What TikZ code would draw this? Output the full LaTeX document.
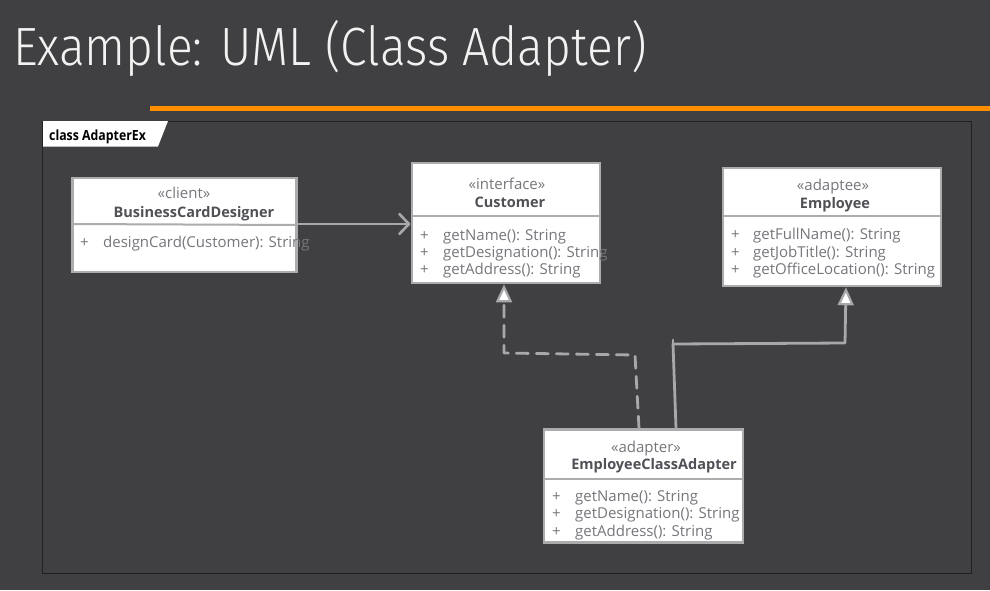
\documentclass[tikz,border=0pt]{standalone}
\usepackage{fontspec}
\setmainfont{Open Sans}
\newfontfamily\titlefont[UprightFont={* Light}]{Fira Sans}
\usetikzlibrary{arrows.meta}
\definecolor{bg}{RGB}{64,63,65}
\definecolor{framec}{RGB}{32,32,33}
\definecolor{orangec}{RGB}{255,142,0}
\definecolor{boxborder}{RGB}{172,172,175}
\definecolor{linec}{RGB}{168,168,171}
\definecolor{txt}{RGB}{118,118,124}
\definecolor{nametxt}{RGB}{80,80,86}
\definecolor{titlec}{RGB}{242,242,242}
\tikzset{
  classbox/.style={draw=boxborder, fill=white, line width=2.6pt, rectangle, inner sep=0pt},
  divline/.style={draw=boxborder, line width=2pt},
  stereo/.style={anchor=base, inner sep=0pt, text=txt, font=\fontsize{15}{17}\selectfont},
  cname/.style={anchor=base, inner sep=0pt, text=nametxt, font=\fontsize{14.5}{17}\selectfont\bfseries},
  plus/.style={anchor=base west, inner sep=0pt, text=txt, font=\fontsize{15}{17}\selectfont},
  meth/.style={anchor=base west, inner sep=0pt, text=txt, font=\fontsize{15}{17}\selectfont},
  conn/.style={draw=linec, line width=2.8pt, line cap=round, line join=round},
  gen/.style={conn, -{Triangle[fill=white, length=18pt, width=16pt, line width=2.2pt]}},
  assoc/.style={conn, -{Straight Barb[length=10pt, width=21pt, line width=2.6pt]}},
}
\begin{document}
\begin{tikzpicture}[x=1pt, y=-1pt]
\useasboundingbox (0,0) rectangle (990,590);
\fill[bg] (0,0) rectangle (990,590);
% title
\node[anchor=base west, inner sep=0pt, text=titlec, font=\titlefont\fontsize{49}{56}\selectfont] (title) at (13,65) {\scalebox{0.98}[1.1]{Example: UML (Class Adapter)}};
\fill[orangec] (150,106) rectangle (990,111);
% frame
\draw[framec, line width=1pt] (42,121) rectangle (971,573);
\fill[white] (43,121) -- (168,121) -- (158,146.5) -- (43,146.5) -- cycle;
\node[anchor=base west, inner sep=0pt, text=black, font=\fontsize{14}{16}\selectfont\bfseries] (tab) at (49,140) {\scalebox{0.88}[1]{class AdapterEx}};

% BusinessCardDesigner
\node[classbox, minimum width=224pt, minimum height=94pt] (bcd) at (184.5,225) {};
\draw[divline] (72,224) -- (297,225);
\node[stereo] (bcds) at (184,198) {«client»};
\node[cname] (bcdn) at (194,217) {BusinessCardDesigner};
\node[plus] (bcdp1) at (80,247) {+};
\node[meth] (bcdm1) at (103,247) {designCard(Customer): String};

% Customer
\node[classbox, minimum width=188pt, minimum height=120pt] (cust) at (506,223) {};
\draw[divline] (412,216) -- (600,216);
\node[stereo] (custs) at (507,189) {«interface»};
\node[cname] (custn) at (510,207) {Customer};
\node[plus] (custp1) at (420,240) {+};
\node[meth] (custm1) at (443,240) {getName(): String};
\node[plus] (custp2) at (420,257) {+};
\node[meth] (custm2) at (443,257) {getDesignation(): String};
\node[plus] (custp3) at (420,274) {+};
\node[meth] (custm3) at (443,274) {getAddress(): String};

% Employee
\node[classbox, minimum width=218pt, minimum height=118pt] (emp) at (832,227) {};
\draw[divline] (723,216) -- (941,216);
\node[stereo] (emps) at (833,190) {«adaptee»};
\node[cname] (empn) at (835,208) {Employee};
\node[plus] (empp1) at (731,239) {+};
\node[meth] (empm1) at (753,239) {getFullName(): String};
\node[plus] (empp2) at (731,257) {+};
\node[meth] (empm2) at (753,257) {getJobTitle(): String};
\node[plus] (empp3) at (731,274) {+};
\node[meth] (empm3) at (753,274) {getOfficeLocation(): String};

% EmployeeClassAdapter
\node[classbox, minimum width=199pt, minimum height=113pt] (ada) at (643.5,486) {};
\draw[divline] (544,479) -- (743,479);
\node[stereo] (adas) at (646,452) {«adapter»};
\node[cname] (adan) at (654,469) {EmployeeClassAdapter};
\node[plus] (adap1) at (552,501) {+};
\node[meth] (adam1) at (575,501) {getName(): String};
\node[plus] (adap2) at (552,518) {+};
\node[meth] (adam2) at (575,518) {getDesignation(): String};
\node[plus] (adap3) at (552,536) {+};
\node[meth] (adam3) at (575,536) {getAddress(): String};

% connectors
\coordinate (d1) at (635,355);
\coordinate (d2) at (504,353);
\coordinate (g1) at (673,344);
\coordinate (g2) at (845,343);
\draw[assoc] (bcd.east |- 0,224) -- (cust.west |- 0,224);
\draw[gen, dashed, dash pattern=on 12pt off 8pt] (ada.north -| 639,0) -- (d1) -- (d2) -- (cust.south -| 504,0);
\draw[gen] (ada.north -| 676,0) -- (g1) -- (g2) -- (emp.south -| 846,0);
\draw[conn] (g1) -- (673,340);
\end{tikzpicture}
\end{document}
